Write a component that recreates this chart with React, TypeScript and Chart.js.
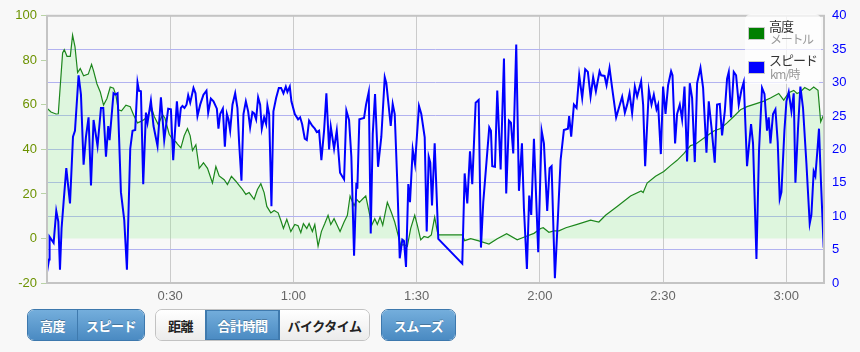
import React, { useEffect, useRef } from 'react';
import { Chart, registerables } from 'chart.js';

Chart.register(...registerables);

// ---- data (time in minutes from start) ----
const altTimes = [0, 0.97, 2.19, 2.75, 3.80, 4.21, 4.87, 5.67, 6.23, 6.81, 7.45, 8.10, 8.91, 10.05, 10.85, 11.34, 12.17, 12.97, 13.77, 14.60, 15.40, 16.20, 16.79, 17.35, 18.15, 19.22, 20.27, 21.07, 22.04, 22.87, 23.67, 24.65, 25.45, 26.11, 27.08, 28.13, 28.71, 29.76, 30.56, 31.46, 31.78, 32.60, 33.41, 34.21, 34.87, 35.43, 36.25, 37.06, 38.10, 39.08, 40.29, 41.12, 41.92, 43.14, 43.94, 44.91, 45.99, 46.79, 47.59, 48.42, 49.22, 50.44, 51.24, 52.07, 52.87, 53.53, 54.50, 55.30, 56.28, 56.93, 57.57, 58.39, 59.37, 60.34, 61.14, 61.80, 62.43, 63.26, 63.82, 64.62, 65.21, 66.01, 66.81, 67.64, 68.44, 69.10, 69.90, 70.71, 71.36, 72.34, 73.14, 73.80, 74.77, 75.43, 76.06, 76.79, 77.62, 78.35, 79.08, 79.81, 80.44, 81.10, 81.75, 82.87, 83.84, 84.67, 85.47, 86.13, 86.93, 87.74, 88.56, 89.54, 90.17, 91.0, 91.80, 92.77, 93.58, 94.40, 95.04, 95.38, 101.12, 101.70, 103.16, 104.94, 107.62, 109.64, 111.92, 114.50, 116.55, 118.57, 120.19, 120.83, 122.21, 123.43, 124.65, 126.35, 129.10, 132.36, 134.38, 136.01, 138.83, 142.09, 144.67, 145.16, 146.13, 148.18, 150.19, 151.82, 153.43, 155.06, 156.69, 157.98, 160.73, 162.36, 163.99, 165.60, 167.23, 168.86, 170.46, 172.90, 174.53, 176.16, 178.18, 179.39, 180.61, 181.83, 182.63, 183.45, 184.5, 185.72, 186.69, 187.74, 188.39, 189.12];
const altValues = [58.5, 56.8, 55.9, 56.0, 83.3, 84.8, 81.8, 81.8, 91.3, 86.2, 74.5, 76.3, 73.1, 73.8, 78.2, 75.3, 69.4, 65.8, 59.9, 62.9, 68.0, 67.5, 64.3, 57.8, 57.3, 59.9, 59.2, 55.6, 51.9, 52.6, 53.4, 55.6, 58.8, 54.8, 51.2, 55.6, 54.1, 46.8, 44.6, 43.2, 42.4, 40.7, 46.1, 49.4, 46.1, 39.5, 42.1, 31.5, 34.0, 31.5, 24.9, 32.3, 28.1, 26.4, 24.2, 27.9, 25.7, 23.8, 22.0, 19.8, 20.6, 17.6, 22.0, 24.6, 20.6, 14.4, 11.5, 12.6, 11.5, 8.2, 4.5, 8.6, 3.1, 6.3, 5.7, 2.6, 6.7, 4.5, 6.7, 3.1, 6.3, -3.5, 3.1, 6.7, 10.4, 6.3, 8.9, 5.7, 3.1, 7.4, 10.4, 19.1, 14.7, 17.6, 16.2, 17.6, 19.1, 12.6, 6.0, 8.9, 6.3, 9.6, 6.0, 16.2, 11.8, 7.4, 1.6, -3.1, -2.8, -3.5, 4.5, 10.4, 6.0, -0.6, 0.9, 0.4, 1.6, 9.6, 3.1, 1.6, 1.6, -1.0, -0.1, -1.0, -2.5, -0.1, 2.1, -0.6, 0.9, 2.3, 4.5, 4.8, 2.8, 3.4, 3.4, 4.8, 6.3, 8.2, 7.4, 10.4, 14.4, 19.1, 21.3, 20.6, 24.9, 27.9, 30.1, 32.7, 35.1, 38.1, 41.7, 42.4, 46.1, 48.3, 49.4, 51.9, 54.8, 57.8, 59.2, 60.7, 61.7, 63.1, 65.1, 62.1, 65.5, 66.5, 65.1, 65.8, 67.8, 66.5, 68.0, 66.5, 52.4, 55.6];

const spdTimes = [0, 0.49, 0.63, 1.61, 2.26, 2.75, 3.16, 3.55, 4.04, 4.70, 5.60, 6.33, 6.81, 7.69, 8.27, 8.91, 9.49, 10.12, 10.71, 11.34, 12.31, 13.14, 13.70, 14.36, 14.91, 15.23, 16.20, 16.62, 17.18, 18.0, 18.81, 19.46, 20.27, 20.83, 21.48, 22.04, 22.38, 22.87, 23.43, 24.09, 24.48, 25.30, 25.94, 26.91, 27.74, 28.54, 29.51, 30.17, 30.73, 31.63, 32.12, 32.60, 32.99, 33.48, 33.97, 34.38, 34.87, 35.67, 36.16, 36.64, 37.30, 38.10, 38.83, 39.25, 39.90, 40.54, 41.36, 41.75, 42.17, 42.82, 43.31, 43.80, 44.18, 44.60, 45.16, 45.82, 46.37, 46.79, 47.35, 47.84, 48.42, 48.98, 49.46, 50.02, 50.44, 50.92, 51.41, 51.90, 52.31, 52.87, 53.36, 53.67, 54.09, 54.65, 55.13, 55.79, 56.45, 57.0, 57.57, 58.15, 58.54, 59.12, 59.51, 60.34, 61.14, 61.63, 62.12, 62.77, 63.26, 63.82, 64.62, 65.21, 65.69, 66.25, 66.81, 67.47, 68.03, 68.69, 69.10, 69.90, 70.56, 71.36, 72.34, 72.90, 73.55, 74.11, 74.77, 75.33, 75.57, 76.06, 77.20, 77.69, 78.35, 78.83, 79.32, 79.88, 80.61, 81.41, 82.24, 82.63, 83.70, 84.18, 84.67, 85.30, 85.89, 86.52, 86.93, 87.42, 87.98, 88.39, 89.05, 89.61, 90.58, 91.14, 91.97, 92.46, 92.94, 93.33, 93.75, 94.40, 95.28, 101.12, 101.70, 102.34, 103.0, 103.55, 104.38, 104.77, 105.11, 105.67, 106.23, 107.69, 108.1, 108.42, 109.08, 109.64, 110.46, 111.27, 111.82, 112.48, 112.97, 113.53, 114.26, 114.92, 115.65, 116.13, 116.86, 117.42, 117.91, 118.57, 119.61, 120.44, 121.0, 121.80, 122.38, 122.87, 123.67, 124.40, 125.06, 125.86, 126.84, 127.15, 127.64, 128.30, 128.95, 129.59, 130.32, 131.05, 131.70, 132.36, 132.99, 133.65, 134.55, 134.94, 135.77, 136.25, 136.98, 137.61, 138.59, 139.25, 140.05, 140.71, 141.27, 141.85, 142.48, 143.14, 143.70, 144.67, 145.16, 145.65, 146.55, 147.20, 147.76, 148.42, 148.81, 149.47, 150.02, 150.61, 151.24, 151.97, 152.31, 152.94, 153.43, 154.09, 154.65, 155.23, 155.86, 156.52, 157.08, 157.74, 158.30, 159.12, 159.76, 160.58, 161.14, 161.80, 162.60, 163.16, 163.82, 164.38, 165.04, 165.60, 166.01, 166.57, 167.23, 167.79, 168.44, 169.10, 169.66, 170.46, 171.44, 171.92, 172.75, 173.38, 174.11, 174.70, 175.33, 175.74, 176.16, 176.79, 177.37, 177.93, 178.42, 178.83, 179.56, 180.05, 180.61, 181.27, 181.83, 182.24, 182.87, 183.45, 184.09, 184.91, 185.72, 186.13, 186.69, 187.10, 187.66, 187.98, 188.47, 189.12];
const spdValues = [1.65, 3.5, 6.9, 6.0, 10.8, 9.2, 2.0, 8.2, 12.1, 17.2, 11.9, 21.9, 22.8, 31.1, 28.2, 17.7, 21.9, 24.8, 14.6, 24.4, 20.5, 26.2, 26.2, 18.9, 23.5, 21.4, 28.4, 28.2, 28.4, 13.6, 9.4, 2.0, 20.1, 22.8, 22.9, 30.0, 28.8, 28.7, 14.8, 25.5, 24.0, 27.3, 23.5, 20.5, 27.8, 21.4, 26.1, 26.0, 18.4, 27.2, 23.4, 26.2, 26.5, 26.2, 26.7, 28.1, 27.0, 29.2, 28.4, 25.0, 26.7, 28.2, 28.8, 25.5, 27.6, 27.2, 26.1, 23.1, 25.3, 26.1, 20.4, 25.3, 24.5, 22.8, 26.7, 28.4, 26.2, 20.9, 15.3, 25.3, 27.2, 25.7, 23.3, 25.6, 25.4, 24.5, 27.8, 26.7, 23.1, 24.8, 23.8, 26.6, 25.3, 11.5, 25.7, 27.7, 29.2, 29.2, 28.4, 29.4, 28.6, 29.4, 27.2, 25.3, 24.5, 24.8, 23.8, 21.6, 21.4, 24.3, 23.5, 23.1, 22.6, 22.8, 18.4, 22.8, 28.4, 20.0, 23.4, 20.1, 22.8, 16.5, 15.5, 25.8, 24.4, 18.9, 4.1, 15.0, 14.1, 24.5, 24.7, 26.7, 28.6, 7.4, 22.3, 28.3, 17.4, 21.9, 30.8, 29.9, 23.5, 26.8, 25.3, 15.0, 3.7, 6.5, 6.3, 2.4, 14.8, 12.1, 20.0, 17.8, 26.5, 25.3, 21.8, 7.7, 18.9, 18.0, 11.6, 20.9, 6.6, 2.9, 16.4, 11.9, 19.7, 14.8, 27.0, 27.2, 27.4, 5.3, 12.1, 23.3, 22.8, 17.5, 17.4, 28.8, 17.0, 33.6, 13.4, 24.3, 24.0, 19.4, 35.7, 13.8, 20.9, 11.2, 2.1, 13.1, 10.2, 21.6, 4.6, 22.8, 20.9, 10.8, 17.2, 17.5, 0.7, 9.7, 18.4, 22.9, 23.1, 25.0, 21.9, 26.7, 26.2, 31.1, 27.7, 32.0, 31.6, 27.9, 30.8, 28.7, 31.7, 31.1, 31.0, 29.6, 32.2, 29.2, 24.8, 26.2, 27.9, 25.5, 26.7, 28.4, 25.4, 29.4, 27.9, 30.2, 26.7, 17.5, 28.9, 26.7, 28.2, 26.0, 26.7, 19.3, 29.4, 25.3, 29.6, 31.7, 31.1, 20.9, 25.3, 26.7, 24.5, 29.4, 18.2, 29.9, 27.7, 18.1, 29.9, 32.2, 29.2, 19.5, 27.2, 23.3, 18.0, 26.7, 26.8, 22.1, 25.7, 30.6, 31.6, 24.8, 31.6, 31.1, 26.7, 28.9, 30.1, 17.5, 23.8, 20.9, 3.6, 19.9, 29.2, 28.3, 22.8, 24.8, 20.9, 25.3, 26.0, 21.1, 12.6, 13.6, 22.8, 27.2, 28.6, 25.7, 28.4, 15.0, 23.1, 29.4, 26.2, 18.0, 8.9, 10.2, 16.7, 16.0, 20.4, 23.1, 15.0, 5.3];

const xTickMinutes = [30, 60, 90, 120, 150, 180];
const xMax = 189.2;
const altRange = [-20, 100];
const altStep = 20;
const spdRange = [0, 40];
const spdStep = 5;

const seriesNames = ['高度', 'スピード'];
const seriesUnits = ['メートル', 'km/時'];
const seriesColors = ['#008000', '#0000ff'];

const groupA = ['高度', 'スピード'];
const groupB = ['距離', '合計時間', 'バイクタイム'];
const groupC = ['スムーズ'];

const fmtTime = (v: number) => {
  const h = Math.floor(v / 60);
  const m = Math.round(v - h * 60);
  return `${h}:${String(m).padStart(2, '0')}`;
};

const framePlugin = {
  id: 'frame',
  beforeDraw(chart: any) {
    const { ctx, width, height } = chart;
    ctx.save();
    ctx.fillStyle = '#f8f8f8';
    ctx.fillRect(0, 0, width, height);
    ctx.restore();
  },
  afterDraw(chart: any) {
    const { ctx, chartArea: a } = chart;
    ctx.save();
    ctx.strokeStyle = '#c4c4c4';
    ctx.lineWidth = 2;
    ctx.strokeRect(a.left, a.top, a.right - a.left, a.bottom - a.top);
    ctx.restore();
  },
};

const FONT = "'Liberation Sans', Arial, sans-serif";
const JP = "'Noto Sans CJK JP', 'Noto Sans', sans-serif";

function ChartCanvas() {
  const ref = useRef<HTMLCanvasElement | null>(null);
  useEffect(() => {
    if (!ref.current) return;
    const chart = new Chart(ref.current, {
      type: 'line',
      data: {
        datasets: [
          {
            label: seriesNames[1],
            data: spdTimes.map((t, i) => ({ x: t, y: spdValues[i] })),
            yAxisID: 'ySpd',
            borderColor: seriesColors[1],
            borderWidth: 2,
            pointRadius: 0,
            tension: 0,
            fill: false,
            order: 0,
          },
          {
            label: seriesNames[0],
            data: altTimes.map((t, i) => ({ x: t, y: altValues[i] })),
            yAxisID: 'yAlt',
            borderColor: '#1c861c',
            borderWidth: 1.2,
            pointRadius: 0,
            tension: 0,
            fill: 'origin',
            backgroundColor: 'rgba(144,238,144,0.25)',
            order: 1,
          },
        ],
      },
      options: {
        animation: false,
        responsive: true,
        maintainAspectRatio: false,
        devicePixelRatio: 1,
        layout: { padding: { top: 9, left: 0, right: 0, bottom: 0 } },
        plugins: { legend: { display: false }, tooltip: { enabled: false } },
        scales: {
          x: {
            type: 'linear',
            min: 0,
            max: xMax,
            afterBuildTicks: (s: any) => {
              s.ticks = xTickMinutes.map((v) => ({ value: v }));
            },
            afterFit: (s: any) => {
              s.height = 17;
            },
            ticks: {
              callback: (v: any) => fmtTime(Number(v)),
              color: '#666',
              font: { family: FONT, size: 13 },
              padding: 6,
              maxRotation: 0,
              autoSkip: false,
            },
            grid: { color: '#cbcbcb', drawTicks: false, lineWidth: 1 },
            border: { display: false },
          },
          yAlt: {
            type: 'linear',
            position: 'left',
            min: altRange[0],
            max: altRange[1],
            afterFit: (s: any) => {
              s.width = 47;
            },
            ticks: {
              stepSize: altStep,
              color: '#6c9200',
              font: { family: FONT, size: 13 },
              padding: 4,
            },
            grid: { drawOnChartArea: false, drawTicks: true, tickLength: 6, color: '#b9d3a6' },
            border: { display: false },
          },
          ySpd: {
            type: 'linear',
            position: 'right',
            min: spdRange[0],
            max: spdRange[1],
            afterFit: (s: any) => {
              s.width = 36;
            },
            ticks: {
              stepSize: spdStep,
              color: '#0000ff',
              font: { family: FONT, size: 13 },
              padding: 8,
            },
            grid: { color: '#b2b2f0', drawTicks: false, lineWidth: 1 },
            border: { display: false },
          },
        },
      },
      plugins: [framePlugin],
    } as any);
    return () => chart.destroy();
  }, []);
  return <canvas ref={ref} />;
}

const blueBg = 'linear-gradient(#74aedc, #4a8ac2)';
const whiteBg = 'linear-gradient(#ffffff, #ebebeb)';

function Group({ left, items, widths, active }: { left: number; items: string[]; widths: number[]; active: boolean[] }) {
  const allActive = active.every((a) => a);
  return (
    <div
      style={{
        position: 'absolute',
        left,
        top: 309,
        height: 32,
        display: 'flex',
        borderRadius: 7,
        overflow: 'hidden',
        border: `1px solid ${allActive ? '#3d78ad' : '#c2c2c2'}`,
        boxSizing: 'border-box',
      }}
    >
      {items.map((t, i) => (
        <div
          key={t}
          style={{
            width: widths[i],
            display: 'flex',
            alignItems: 'center',
            justifyContent: 'center',
            background: active[i] ? blueBg : whiteBg,
            color: active[i] ? '#fff' : '#222',
            borderLeft: i > 0 ? `1px solid ${active[i] || active[i - 1] ? '#3f7aae' : '#c9c9c9'}` : 'none',
            boxShadow: active[i] && !allActive ? 'inset 0 0 0 1px #3f7aae' : 'none',
            boxSizing: 'border-box',
            fontFamily: JP,
            fontSize: 13,
            fontWeight: 'bold',
            letterSpacing: -0.5,
            textShadow: active[i] ? '0 -1px 0 rgba(0,0,0,0.25)' : 'none',
          }}
        >
          {t}
        </div>
      ))}
    </div>
  );
}

export default function App() {
  return (
    <div style={{ position: 'absolute', left: 0, top: 0, width: 860, height: 352, background: '#f8f8f8', overflow: 'hidden' }}>
      <div style={{ position: 'absolute', left: 0, top: 0, width: 860, height: 300 }}>
        <ChartCanvas />
      </div>
      {/* legend */}
      <div style={{ position: 'absolute', left: 745, top: 14, width: 76, height: 70, background: 'rgba(255,255,255,0.72)', borderRadius: 6 }} />
      {[0, 1].map((i) => (
        <React.Fragment key={i}>
          <div
            style={{
              position: 'absolute',
              left: 748,
              top: 27 + i * 34,
              width: 15,
              height: 11,
              border: '1px solid #c8c8c8',
              background: seriesColors[i],
            }}
          />
          <div style={{ position: 'absolute', left: 769, top: 18 + i * 34, fontFamily: JP, fontSize: 13, lineHeight: '15px', color: '#333', letterSpacing: -1, whiteSpace: 'nowrap' }}>
            {seriesNames[i]}
          </div>
          <div style={{ position: 'absolute', left: 770, top: 32 + i * 35, fontFamily: JP, fontSize: 12, lineHeight: '14px', color: '#999', letterSpacing: -1.3, whiteSpace: 'nowrap' }}>
            {seriesUnits[i]}
          </div>
        </React.Fragment>
      ))}
      <Group left={27} items={groupA} widths={[49, 67]} active={[true, true]} />
      <Group left={155} items={groupB} widths={[49, 74, 90]} active={[false, true, false]} />
      <Group left={381} items={groupC} widths={[73]} active={[true]} />
    </div>
  );
}
